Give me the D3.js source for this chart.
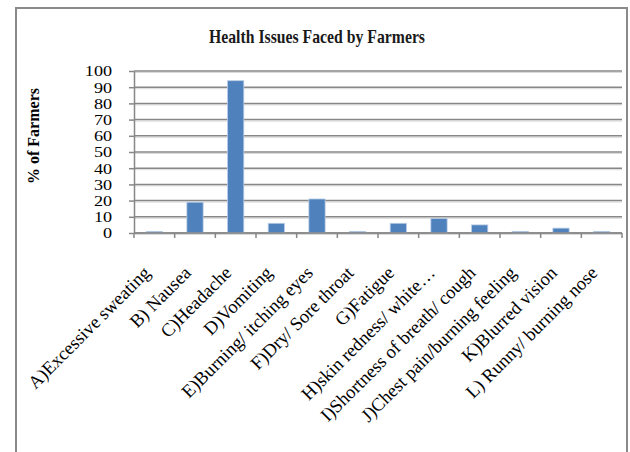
<!DOCTYPE html>
<html>
<head>
<meta charset="utf-8">
<script src="https://cdn.jsdelivr.net/npm/d3@7/dist/d3.min.js"></script>
<style>
  html, body { margin: 0; padding: 0; background: #fff; }
  svg { display: block; }
</style>
</head>
<body>
<svg id="chart" width="630" height="452"></svg>
<script>
// Health issues reported by farmers (% of respondents)
const categories = [
  "A)Excessive sweating",
  "B) Nausea",
  "C)Headache",
  "D)Vomiting",
  "E)Burning/ itching eyes",
  "F)Dry/ Sore throat",
  "G)Fatigue",
  "H)skin redness/ white…",
  "I)Shortness of breath/ cough",
  "J)Chest pain/burning feeling",
  "K)Blurred vision",
  "L) Runny/ burning nose"
];
const percentFarmers = [1, 19, 94, 6, 21, 1, 6, 9, 5, 1, 3, 1];
const yTicks = [0, 10, 20, 30, 40, 50, 60, 70, 80, 90, 100];

const svg = d3.select("#chart");
const serif = "'Liberation Serif', 'Times New Roman', serif";
const gridColor = "#878787";

// outer frame
svg.append("path")
  .attr("d", "M16,460 L16,8 L627,8 L627,460")
  .attr("fill", "none")
  .attr("stroke", "#8a8a8a")
  .attr("stroke-width", 2);

const plot = { left: 134, right: 622, top: 71, bottom: 233 };

const x = d3.scaleBand()
  .domain(categories)
  .range([plot.left, plot.right])
  .paddingInner(0.6)
  .paddingOuter(0.3);

const y = d3.scaleLinear()
  .domain([0, 100])
  .range([plot.bottom, plot.top]);

// horizontal gridlines with a soft light edge underneath
const grid = svg.append("g");
grid.selectAll("line.shade")
  .data(yTicks)
  .join("line")
  .attr("x1", plot.left).attr("x2", plot.right)
  .attr("y1", d => y(d) + 1.5).attr("y2", d => y(d) + 1.5)
  .attr("stroke", "#d9d9d9").attr("stroke-width", 1);
grid.selectAll("line.main")
  .data(yTicks)
  .join("line")
  .attr("x1", plot.left).attr("x2", plot.right)
  .attr("y1", d => y(d)).attr("y2", d => y(d))
  .attr("stroke", gridColor).attr("stroke-width", 1.5);

// y axis
const yAxis = svg.append("g")
  .attr("transform", `translate(${plot.left},0)`)
  .call(d3.axisLeft(y).tickValues(yTicks).tickSize(5).tickPadding(0).tickSizeOuter(0));
yAxis.select(".domain").attr("stroke", gridColor).attr("stroke-width", 1.5);
yAxis.selectAll(".tick line").attr("stroke", gridColor).attr("stroke-width", 1.5);
// tick numbers: slightly wide serif digits, right-aligned at x = 112
yAxis.selectAll(".tick text")
  .attr("x", null)
  .attr("transform", "translate(-22,0) scale(1.25,1)")
  .attr("font-family", serif)
  .attr("font-size", 14.5)
  .attr("fill", "#000")
  .attr("dy", "0.34em");

// bars
svg.append("g")
  .selectAll("rect")
  .data(percentFarmers)
  .join("rect")
  .attr("x", (d, i) => x(categories[i]))
  .attr("width", x.bandwidth())
  .attr("y", d => y(d))
  .attr("height", d => y(0) - y(d))
  .attr("fill", "#4f81bd")
  .attr("stroke", "#b9cde5")
  .attr("stroke-width", 0.8);

// x axis baseline and category separators
const step = x.step();
const edges = d3.range(categories.length + 1).map(i => plot.left + i * step);
svg.append("line")
  .attr("x1", plot.left).attr("x2", plot.right)
  .attr("y1", y(0)).attr("y2", y(0))
  .attr("stroke", gridColor).attr("stroke-width", 1.5);
svg.append("g")
  .selectAll("line")
  .data(edges)
  .join("line")
  .attr("x1", d => d).attr("x2", d => d)
  .attr("y1", y(0)).attr("y2", y(0) + 5)
  .attr("stroke", gridColor).attr("stroke-width", 1.5);

// rotated category labels
svg.append("g")
  .selectAll("text")
  .data(categories)
  .join("text")
  .attr("transform", d => `translate(${x(d) + x.bandwidth() / 2 - 3},${y(0) + 41}) rotate(-45)`)
  .attr("text-anchor", "end")
  .attr("font-family", serif)
  .attr("font-size", 18.5)
  .attr("fill", "#000")
  .text(d => d);

// y axis title
svg.append("text")
  .attr("transform", `translate(39,136) rotate(-90)`)
  .attr("text-anchor", "middle")
  .attr("font-family", serif)
  .attr("font-weight", "bold")
  .attr("font-size", 16)
  .attr("fill", "#000")
  .text("% of Farmers");

// chart title
svg.append("text")
  .attr("x", 209)
  .attr("y", 43)
  .attr("textLength", 216)
  .attr("lengthAdjust", "spacingAndGlyphs")
  .attr("font-family", serif)
  .attr("font-weight", "bold")
  .attr("font-size", 19)
  .attr("fill", "#1a1a1a")
  .text("Health Issues Faced by Farmers");
</script>
</body>
</html>
